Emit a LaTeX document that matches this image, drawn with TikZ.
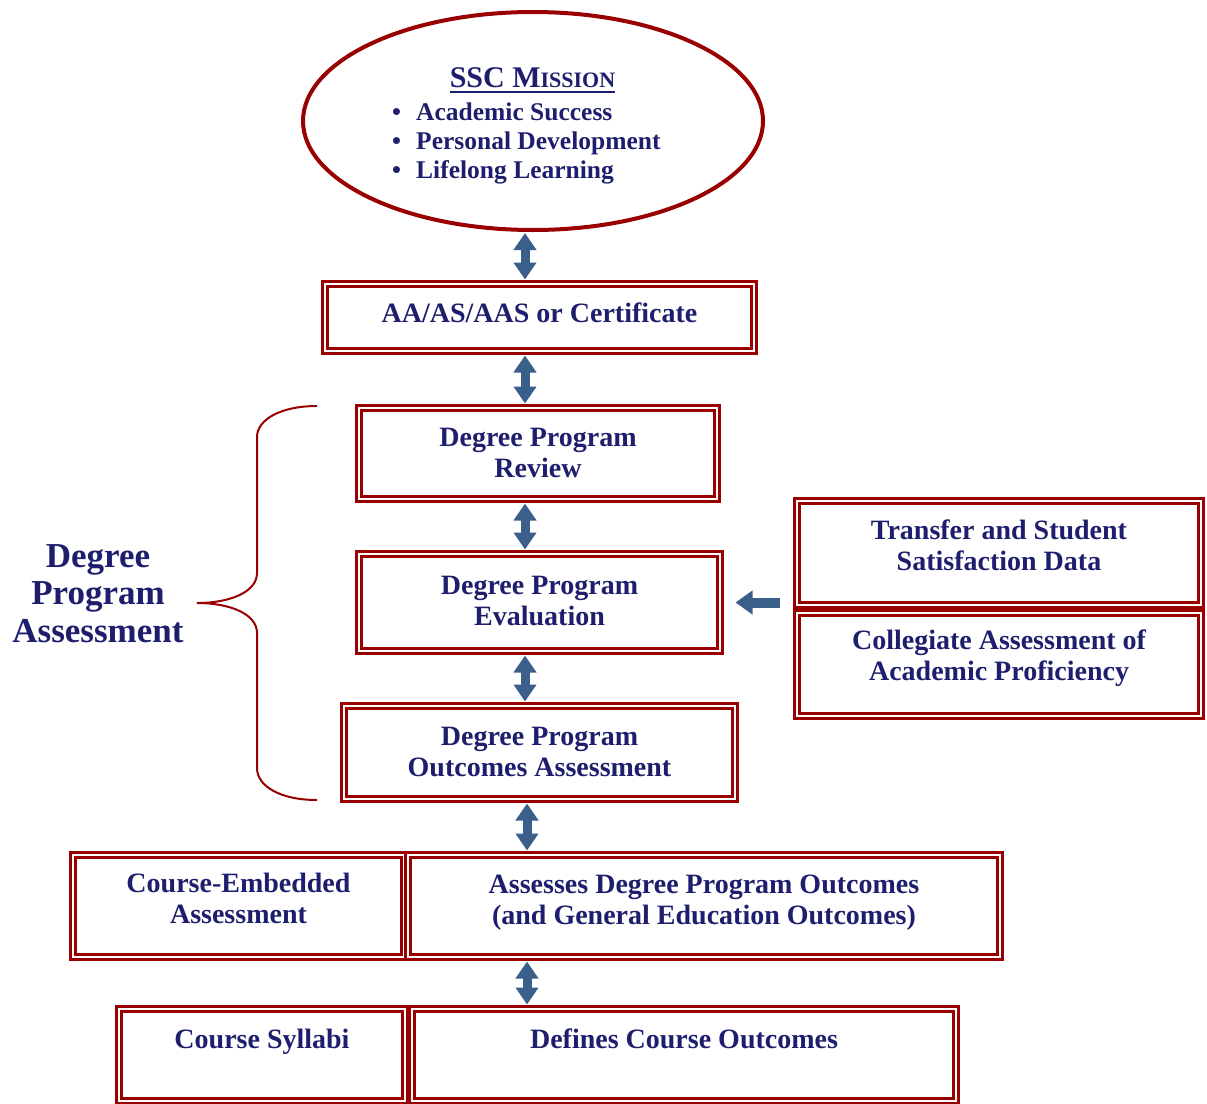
\documentclass[tikz,border=0pt]{standalone}
\usepackage{fontspec}
\setmainfont{Liberation Serif}
\usetikzlibrary{arrows.meta,shapes.geometric,calc}
\definecolor{navy}{HTML}{1E1E6E}
\definecolor{dred}{HTML}{990000}
\definecolor{steel}{HTML}{3A5F8B}
\newcommand\myul[1]{\setbox0=\hbox{#1}\leavevmode\rlap{\raisebox{-6pt}{\rule{\wd0}{2pt}}}\box0}
\begin{document}
\begin{tikzpicture}[x=1pt,y=-1pt,
  dbox/.style={draw=dred, line width=3pt, double=white, double distance=2pt, inner sep=0pt, align=center, text=navy, font=\bfseries\fontsize{28}{30.5}\selectfont, text height=19pt},
  twoline/.style={text height=49.5pt},
  varrow/.style={draw=steel, line width=9pt, {Triangle[width=22pt,length=17pt]}-{Triangle[width=22pt,length=17pt]}, shorten <=3pt, shorten >=3pt},
  larrow/.style={draw=steel, line width=10pt, -{Triangle[width=23pt,length=17pt]}},
  txt/.style={text=navy, inner sep=0pt},
]
\useasboundingbox (0,0) rectangle (1207,1103);

% mission ellipse
\node[ellipse, draw=dred, line width=4pt, minimum width=460pt, minimum height=218pt, inner sep=0pt] (mission) at (533,121) {};
\node[txt, anchor=base, font=\bfseries] (title) at (532.5,87) {\fontsize{30}{33}\selectfont\myul{SSC M\fontsize{22}{33}\selectfont ISSION}};
\node[txt, anchor=north west, align=left, text height=76pt, font=\bfseries\fontsize{25.5}{29}\selectfont] (bullets) at (392,102)
  {\makebox[24pt][l]{\textbullet}Academic Success\\
   \makebox[24pt][l]{\textbullet}Personal Development\\
   \makebox[24pt][l]{\textbullet}Lifelong Learning};

% boxes
\node[dbox, minimum width=429pt, minimum height=67pt, text depth=9pt] (aa) at (539.5,317.5) {AA/AS/AAS or Certificate};
\node[dbox, twoline, minimum width=358pt, minimum height=91pt, text depth=2.5pt] (review) at (538,453.5) {Degree Program\\Review};
\node[dbox, twoline, minimum width=361pt, minimum height=97pt, text depth=4.5pt] (eval) at (539.5,602.5) {Degree Program\\Evaluation};
\node[dbox, twoline, minimum width=391pt, minimum height=93pt, text depth=2.5pt] (outc) at (539.5,752.5) {Degree Program\\Outcomes Assessment};
\node[dbox, twoline, minimum width=404pt, minimum height=104pt, text depth=15.5pt] (trans) at (999,553) {Transfer and Student\\Satisfaction Data};
\node[dbox, twoline, minimum width=404pt, minimum height=103pt, text depth=18.5pt] (coll) at (999,664.5) {Collegiate Assessment of\\Academic Proficiency};
\node[dbox, twoline, minimum width=331pt, minimum height=102pt, text depth=15.5pt] (ce) at (238.5,906) {Course-Embedded\\Assessment};
\node[dbox, twoline, minimum width=592pt, minimum height=102pt, text depth=13.5pt] (assess) at (704,906) {Assesses Degree Program Outcomes\\(and General Education Outcomes)};
\node[dbox, minimum width=286pt, minimum height=92pt, text depth=32pt] (syl) at (262,1055) {Course Syllabi};
\node[dbox, minimum width=544pt, minimum height=92pt, text depth=32pt] (def) at (684,1055) {Defines Course Outcomes};

% brace and label
\draw[dred, line width=2pt] (317,406) .. controls (280,406) and (257,420) .. (257,437) -- (257,573)
  .. controls (257,592) and (230,603) .. (197,603)
  .. controls (230,603) and (257,614) .. (257,633) -- (257,768)
  .. controls (257,786) and (280,800) .. (317,800);
\node[txt, align=center, text height=98pt, text depth=0pt, font=\bfseries\fontsize{35}{37.5}\selectfont] (dpa) at (98,593) {Degree\\Program\\Assessment};

% arrows
\coordinate (ax) at (525,0);
\coordinate (bx) at (527,0);
\draw[varrow, shorten <=1pt] (mission.south -| ax) -- (aa.north -| ax);
\draw[varrow] (aa.south -| ax) -- (review.north -| ax);
\draw[varrow] (review.south -| ax) -- (eval.north -| ax);
\draw[varrow] (eval.south -| ax) -- (outc.north -| ax);
\draw[varrow] (outc.south -| bx) -- (assess.north -| bx);
\draw[varrow] (assess.south -| bx) -- (def.north -| bx);
\coordinate (lstart) at ($(trans.south west)+(-16,0)$);
\draw[larrow] (lstart |- eval.east) -- ($(eval.east)+(14,0)$);
\end{tikzpicture}
\end{document}
